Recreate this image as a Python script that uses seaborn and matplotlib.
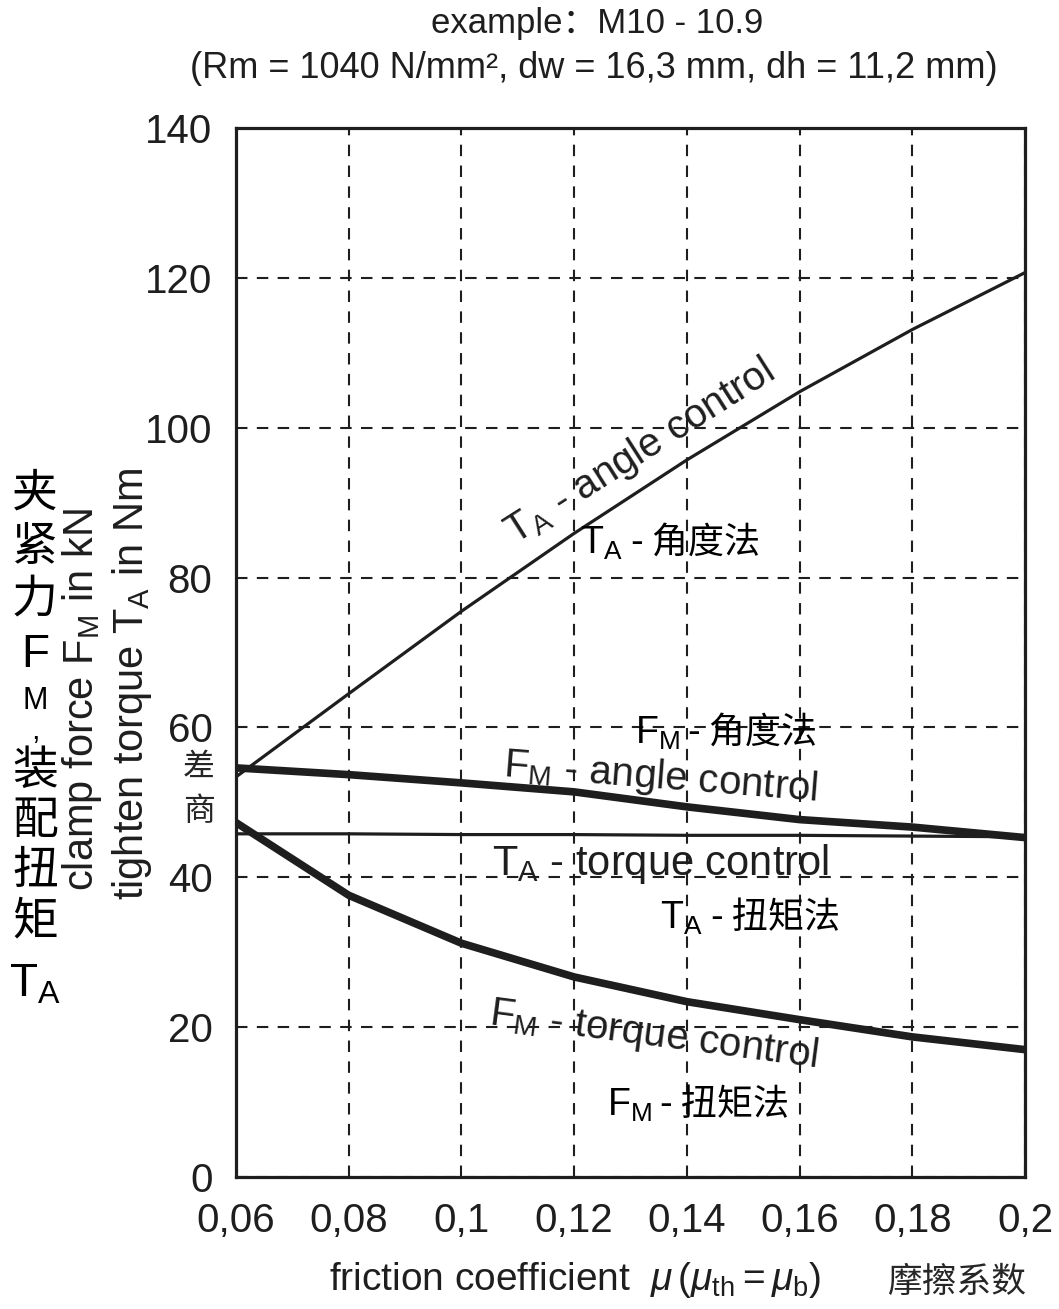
import numpy as np
import pandas as pd
import seaborn as sns
import matplotlib.pyplot as plt

# values (M10 - 10.9)
mu = [0.06, 0.08, 0.10, 0.12, 0.14, 0.16, 0.18, 0.20]
ta_angle = [53.4, 64.5, 75.5, 85.9, 95.7, 104.8, 113.1, 120.7]
fm_angle = [54.6, 53.7, 52.6, 51.4, 49.4, 47.7, 46.7, 45.3]
ta_torque = [45.8, 45.8, 45.7, 45.7, 45.6, 45.6, 45.5, 45.4]
fm_torque = [47.3, 37.6, 31.2, 26.7, 23.4, 21.0, 18.7, 17.0]

x_ticks = [0.06, 0.08, 0.10, 0.12, 0.14, 0.16, 0.18, 0.20]
x_tick_labels = ["0,06", "0,08", "0,1", "0,12", "0,14", "0,16", "0,18", "0,2"]
y_ticks = [0, 20, 40, 60, 80, 100, 120, 140]

df = pd.DataFrame({"mu": mu, "ta_angle": ta_angle, "fm_angle": fm_angle,
                   "ta_torque": ta_torque, "fm_torque": fm_torque})

sns.set_style("white")
plt.rcParams["font.family"] = ["Liberation Sans", "Noto Sans CJK SC", "DejaVu Sans"]
plt.rcParams["mathtext.fontset"] = "custom"
plt.rcParams["mathtext.rm"] = "Liberation Sans"
plt.rcParams["mathtext.it"] = "Liberation Sans:italic"

W, H = 1059, 1309
fig = plt.figure(figsize=(W / 100, H / 100), dpi=100)
ax = fig.add_axes([236 / W, 1 - 1177 / H, (1025 - 236) / W, (1177 - 128) / H])

ink = "#1e1e1e"
sns.lineplot(data=df, x="mu", y="ta_angle", ax=ax, color=ink, lw=2.3)
sns.lineplot(data=df, x="mu", y="ta_torque", ax=ax, color=ink, lw=2.3)
sns.lineplot(data=df, x="mu", y="fm_angle", ax=ax, color=ink, lw=5.5, solid_capstyle="round")
sns.lineplot(data=df, x="mu", y="fm_torque", ax=ax, color=ink, lw=5.5, solid_capstyle="round")

ax.set_xlim(0.06, 0.20)
ax.set_ylim(0, 140)
ax.set_xticks(x_ticks)
ax.set_xticklabels(x_tick_labels)
ax.set_yticks(y_ticks)
ax.tick_params(axis="both", length=0, labelsize=29, colors=ink)
ax.tick_params(axis="y", pad=17)
ax.tick_params(axis="x", pad=18)
ax.grid(True, color=ink, lw=1.5, linestyle=(0, (5.5, 4.5)))
for s in ax.spines.values():
    s.set_color(ink)
    s.set_linewidth(2.3)
ax.set_xlabel("")
ax.set_ylabel("")


def px(x, y):
    return x / W, 1 - y / H


# title
fig.text(*px(597, 24), "example：M10 - 10.9", ha="center", va="center",
         fontsize=25, color=ink, family=["Liberation Sans", "Noto Sans CJK SC"])
fig.text(*px(594, 68), "(Rm = 1040 N/mm², dw = 16,3 mm, dh = 11,2 mm)",
         ha="center", va="center", fontsize=26, color=ink)

# english axis labels
fig.text(*px(82, 700), r"clamp force F$_\mathregular{M}$ in kN", rotation=90,
         ha="center", va="center", fontsize=30, color=ink)
fig.text(*px(132, 684), r"tighten torque T$_\mathregular{A}$ in Nm", rotation=90,
         ha="center", va="center", fontsize=30, color=ink)
fig.text(*px(575, 1280), r"friction coefficient  $\mu\,(\mu_\mathregular{th}=\mu_\mathregular{b})$",
         ha="center", va="center", fontsize=28, color=ink)

# curve labels
fig.text(*px(640, 452), r"T$_\mathregular{A}$ - angle control", rotation=32.5,
         rotation_mode="anchor", ha="center", va="center", fontsize=29, color=ink)
fig.text(*px(661, 777), r"F$_\mathregular{M}$ - angle control", rotation=-4.5,
         rotation_mode="anchor", ha="center", va="center", fontsize=29, color=ink)
fig.text(*px(661, 864), r"T$_\mathregular{A}$ - torque control",
         ha="center", va="center", fontsize=30, color=ink)
fig.text(*px(654, 1035), r"F$_\mathregular{M}$ - torque control", rotation=-7.5,
         rotation_mode="anchor", ha="center", va="center", fontsize=29, color=ink)

# chinese annotations
cjk = ["Noto Sans CJK SC", "DejaVu Sans"]
zh_labels = [("T", "A", " - 角度法", 623, 543),
             ("F", "M", " - 角度法", 680, 733),
             ("T", "A", " - 扭矩法", 703, 918),
             ("F", "M", " - 扭矩法", 652, 1105)]
for big, sub, rest, x, y in zh_labels:
    fig.text(*px(x, y), big + r"$_\mathregular{" + sub + "}$", ha="right", va="center",
             fontsize=27, color="black", family=["Liberation Sans"])
    fig.text(*px(x, y), rest, ha="left", va="center", fontsize=26, color="black", family=cjk)

fig.text(*px(199, 767), "差", ha="center", va="center", fontsize=23, family=cjk)
fig.text(*px(199, 811), "商", ha="center", va="center", fontsize=23, family=cjk)
fig.text(*px(957, 1282), "摩擦系数", ha="center", va="center", fontsize=25, family=cjk)

# stacked chinese y label on the far left
stack = [("夹", 495, 33), ("紧", 548, 33), ("力", 600, 33), ("F", 655, 33),
         ("M\n,", 716, 22), ("装", 772, 33), ("配", 822, 33), ("扭", 872, 33),
         ("矩", 922, 33), (r"T$_\mathregular{A}$", 985, 33)]
for ch, y, fs in stack:
    fig.text(*px(35, y), ch, ha="center", va="center", fontsize=fs, color="black",
             family=["Liberation Sans", "Noto Sans CJK SC"], linespacing=1.0,
             multialignment="center")

fig.savefig("out.png", dpi=100, facecolor="white")
